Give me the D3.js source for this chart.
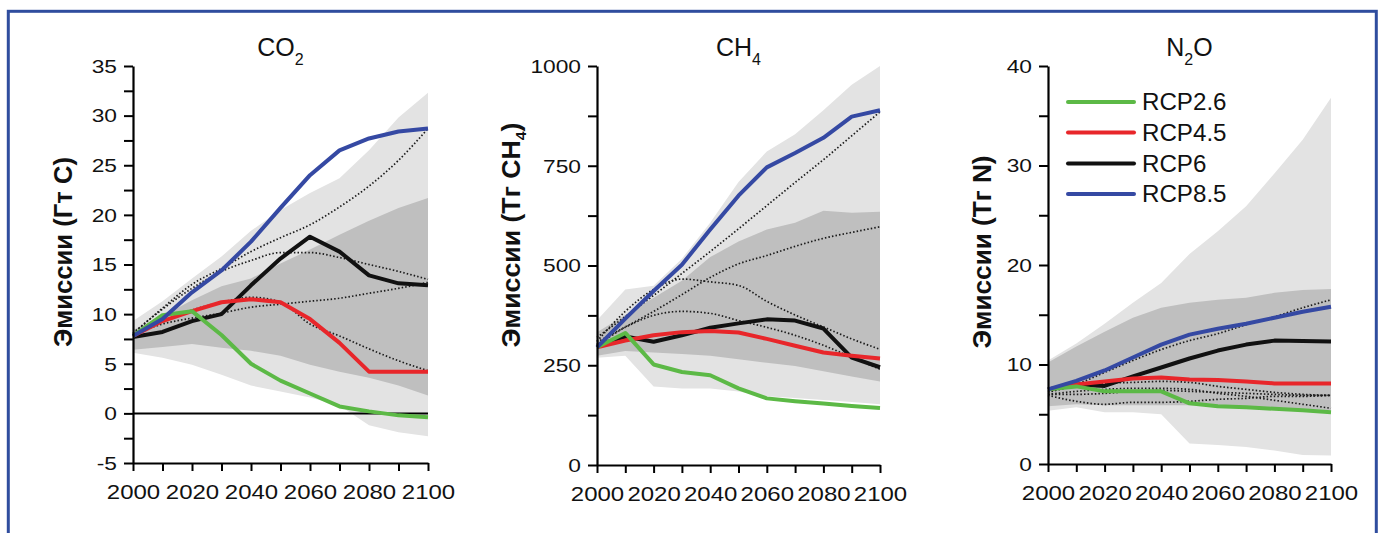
<!DOCTYPE html>
<html><head><meta charset="utf-8">
<script src="https://cdn.jsdelivr.net/npm/d3@7"></script>
<style>
html,body{margin:0;padding:0;background:#fff;overflow:hidden;}
svg text{font-family:"Liberation Sans",Arial,Helvetica,sans-serif;fill:#111;}
</style></head><body>
<svg id="chart" width="1384" height="533"></svg>
<script>
// ---------------- DATA ----------------
const years = [2000,2010,2020,2030,2040,2050,2060,2070,2080,2090,2100];
const xTickYears = [2000,2010,2020,2030,2040,2050,2060,2070,2080,2090,2100];
const xTickLabels = [2000,2020,2040,2060,2080,2100];
const scenarios = ["RCP2.6","RCP4.5","RCP6","RCP8.5"];
const scenarioColors = ["#5cb946","#e8262a","#111111","#3549a3"];

// CO2 (Гт C)
const co2Rcp26 = [7.8, 9.9, 10.3, 7.9, 5.0, 3.3, 2.0, 0.7, 0.2, -0.2, -0.4];
const co2Rcp45 = [7.8, 9.3, 10.3, 11.2, 11.5, 11.2, 9.5, 7.1, 4.2, 4.2, 4.2];
const co2Rcp6  = [7.7, 8.2, 9.3, 10.0, 12.9, 15.6, 17.8, 16.3, 13.9, 13.1, 12.9];
const co2Rcp85 = [7.8, 9.5, 12.2, 14.4, 17.3, 20.7, 24.0, 26.5, 27.7, 28.4, 28.7];
const co2LightHi = [9.3, 11.3, 13.6, 15.8, 18.4, 20.5, 22.2, 23.7, 26.5, 29.8, 32.3];
const co2LightLo = [6.1, 5.6, 4.9, 3.9, 2.8, 2.2, 1.6, 0.8, -1.2, -1.9, -2.3];
const co2DarkHi  = [8.4, 9.8, 11.4, 12.8, 13.6, 15.1, 16.5, 18.0, 19.4, 20.7, 21.7];
const co2DarkLo  = [6.4, 6.7, 7.0, 6.6, 6.3, 5.8, 4.9, 4.2, 3.6, 2.8, 1.8];
const co2Dot1 = [8.0, 10.6, 13.0, 14.6, 16.3, 17.7, 19.0, 20.8, 22.9, 25.5, 28.7];
const co2Dot2 = [8.1, 10.5, 12.6, 14.3, 15.4, 16.2, 16.2, 15.7, 15.0, 14.3, 13.5];
const co2Dot3 = [7.9, 9.0, 9.6, 10.1, 10.7, 11.0, 11.3, 11.6, 12.1, 12.6, 13.2];
const co2Dot4 = [7.9, 9.3, 10.4, 11.2, 11.7, 11.2, 9.0, 7.8, 6.5, 5.3, 4.3];
const co2YTicks = [-5,-2.5,0,2.5,5,7.5,10,12.5,15,17.5,20,22.5,25,27.5,30,32.5,35];
const co2YLabels = [-5,0,5,10,15,20,25,30,35];

// CH4 (Тг CH4)
const ch4Rcp26 = [295, 331, 252, 233, 225, 192, 167, 160, 154, 148, 143];
const ch4Rcp45 = [295, 312, 325, 333, 336, 332, 316, 299, 282, 274, 267];
const ch4Rcp6  = [300, 322, 309, 325, 344, 355, 365, 362, 342, 269, 245];
const ch4Rcp85 = [295, 367, 436, 502, 590, 675, 746, 782, 820, 873, 889];
const ch4LightHi = [363, 440, 449, 517, 607, 709, 786, 829, 889, 953, 1000];
const ch4LightLo = [269, 274, 197, 192, 192, 184, 172, 168, 163, 158, 152];
const ch4DarkHi  = [333, 376, 419, 462, 521, 560, 590, 607, 637, 632, 635];
const ch4DarkLo  = [274, 286, 282, 278, 274, 265, 256, 248, 235, 222, 209];
const ch4Dot1 = [320, 372, 425, 480, 535, 592, 650, 708, 765, 825, 885];
const ch4Dot2 = [308, 346, 385, 427, 470, 504, 525, 548, 568, 583, 597];
const ch4Dot3 = [310, 385, 440, 466, 459, 450, 410, 376, 346, 316, 290];
const ch4Dot4 = [300, 345, 375, 385, 380, 362, 345, 325, 300, 270, 240];
const ch4YTicks = [0,125,250,375,500,625,750,875,1000];
const ch4YLabels = [0,250,500,750,1000];

// N2O (Тг N)
const n2oRcp26 = [7.5, 7.8, 7.3, 7.3, 7.3, 6.1, 5.8, 5.7, 5.55, 5.4, 5.2];
const n2oRcp45 = [7.5, 8.0, 8.3, 8.6, 8.7, 8.5, 8.45, 8.3, 8.1, 8.1, 8.1];
const n2oRcp6  = [7.5, 8.0, 7.85, 8.8, 9.7, 10.6, 11.4, 12.0, 12.4, 12.35, 12.3];
const n2oRcp85 = [7.5, 8.35, 9.4, 10.7, 12.0, 13.0, 13.6, 14.1, 14.7, 15.3, 15.8];
const n2oLightHi = [10.4, 12.1, 14.1, 16.2, 18.2, 21.1, 23.4, 25.9, 29.2, 32.6, 36.8];
const n2oLightLo = [5.35, 5.7, 5.2, 5.2, 5.0, 2.05, 1.9, 1.7, 1.35, 0.9, 0.85];
const n2oDarkHi  = [10.2, 11.8, 13.3, 14.7, 15.7, 16.2, 16.5, 16.7, 17.2, 17.5, 17.6];
const n2oDarkLo  = [5.8, 6.0, 5.9, 5.9, 5.9, 5.9, 5.8, 5.7, 5.6, 5.5, 5.4];
const n2oDot1 = [7.2, 8.0, 9.2, 10.4, 11.5, 12.4, 13.1, 14.0, 14.8, 15.7, 16.5];
const n2oDot2 = [7.3, 7.8, 8.1, 8.2, 8.3, 8.2, 7.8, 7.5, 7.2, 7.0, 6.9];
const n2oDot3 = [7.0, 7.0, 7.1, 7.3, 7.4, 7.3, 7.2, 7.1, 7.0, 6.9, 6.9];
const n2oDot4 = [6.9, 6.3, 6.0, 6.2, 6.2, 6.3, 6.5, 6.6, 6.8, 6.8, 6.9];
const n2oDot5 = [7.0, 7.3, 7.5, 7.6, 7.6, 7.5, 7.1, 6.8, 6.4, 6.0, 5.6];
const n2oYTicks = [0,5,10,15,20,25,30,35,40];
const n2oYLabels = [0,10,20,30,40];

// ---------------- LAYOUT ----------------
const svg = d3.select("#chart");
svg.append("rect").attr("x",8.3).attr("y",11.3).attr("width",1368).attr("height",700)
  .attr("fill","none").attr("stroke","#2f4d9e").attr("stroke-width",3);

const panels = [
  {x0:133, x1:428, yTop:66, yBot:463, domain:[-5,35], yTicks:co2YTicks, yLabels:co2YLabels,
   title:[["CO",0],["2",1]], ylab:[["Эмиссии (Гт С)",0]], ylabX:72, ylabY:252, ylabLen:190,
   light:[co2LightLo,co2LightHi], dark:[co2DarkLo,co2DarkHi], dots:[co2Dot1,co2Dot2,co2Dot3,co2Dot4],
   series:[co2Rcp26,co2Rcp45,co2Rcp6,co2Rcp85], zero:true},
  {x0:597, x1:880, yTop:66, yBot:465, domain:[0,1000], yTicks:ch4YTicks, yLabels:ch4YLabels,
   title:[["CH",0],["4",1]], ylab:[["Эмиссии (Тг CH",0],["4",1],[")",0]], ylabX:520, ylabY:235, ylabLen:225,
   light:[ch4LightLo,ch4LightHi], dark:[ch4DarkLo,ch4DarkHi], dots:[ch4Dot1,ch4Dot2,ch4Dot3,ch4Dot4],
   series:[ch4Rcp26,ch4Rcp45,ch4Rcp6,ch4Rcp85], zero:false},
  {x0:1048, x1:1331, yTop:66, yBot:464, domain:[0,40], yTicks:n2oYTicks, yLabels:n2oYLabels,
   title:[["N",0],["2",1],["O",0]], ylab:[["Эмиссии (Тг N)",0]], ylabX:991, ylabY:252, ylabLen:193,
   light:[n2oLightLo,n2oLightHi], dark:[n2oDarkLo,n2oDarkHi], dots:[n2oDot1,n2oDot2,n2oDot3,n2oDot4,n2oDot5],
   series:[n2oRcp26,n2oRcp45,n2oRcp6,n2oRcp85], zero:false, legend:true}
];

const drawOrder = [2,1,0,3];

panels.forEach(p => {
  const x = d3.scaleLinear().domain([2000,2100]).range([p.x0,p.x1]);
  const y = d3.scaleLinear().domain(p.domain).range([p.yBot,p.yTop]);
  const g = svg.append("g");

  const area = (lo,hi) => d3.area().x((d,i)=>x(years[i])).y0((d,i)=>y(lo[i])).y1((d,i)=>y(hi[i]))(years);
  g.append("path").attr("d", area(p.light[0],p.light[1])).attr("fill","#e3e3e3");
  g.append("path").attr("d", area(p.dark[0],p.dark[1])).attr("fill","#bfbfbf");

  if (p.zero) {
    g.append("line").attr("x1",x(2000)).attr("x2",x(2100)).attr("y1",y(0)).attr("y2",y(0))
      .attr("stroke","#000").attr("stroke-width",2);
  }

  const line = d3.line().x((d,i)=>x(years[i])).y(d=>y(d));
  p.dots.forEach(s => {
    g.append("path").attr("d", line.curve(d3.curveMonotoneX)(s)).attr("fill","none")
      .attr("stroke","#1a1a1a").attr("stroke-width",1.7).attr("stroke-dasharray","1.5 2.1");
  });
  drawOrder.forEach(k => {
    g.append("path").attr("d", line.curve(d3.curveLinear)(p.series[k])).attr("fill","none")
      .attr("stroke",scenarioColors[k]).attr("stroke-width",4).attr("stroke-linejoin","round");
  });

  // Y axis
  const yAxis = d3.axisLeft(y).tickValues(p.yTicks).tickSize(9).tickSizeOuter(0)
    .tickFormat(v => p.yLabels.includes(v) ? String(v) : "");
  const ya = g.append("g").attr("transform",`translate(${p.x0},0)`).call(yAxis);
  ya.select(".domain").attr("stroke","#000").attr("stroke-width",2.2);
  ya.selectAll(".tick line").attr("stroke","#000").attr("stroke-width",2);
  const ySx = 1.3;
  ya.selectAll(".tick text").attr("font-size",17.5).attr("fill","#111")
    .attr("x", -16/ySx).attr("dy","0.36em").attr("transform",`scale(${ySx},1)`);

  // X axis
  const xAxis = d3.axisBottom(x).tickValues(xTickYears).tickSize(8).tickSizeOuter(0)
    .tickFormat(v => xTickLabels.includes(v) ? String(v) : "");
  const xa = g.append("g").attr("transform",`translate(0,${p.yBot})`).call(xAxis);
  xa.select(".domain").attr("stroke","#000").attr("stroke-width",2.2);
  xa.selectAll(".tick line").attr("stroke","#000").attr("stroke-width",2);
  const xSx = 1.2;
  xa.selectAll(".tick text").attr("font-size",20).attr("fill","#111")
    .attr("y",36).attr("dy",0).attr("transform",`scale(${xSx},1)`);

  // Title
  const t = g.append("text").attr("x",(p.x0+p.x1)/2).attr("y",56).attr("text-anchor","middle")
    .attr("font-size",25);
  let sub = false;
  p.title.forEach(([s,isSub]) => {
    const ts = t.append("tspan").text(s);
    if (isSub && !sub) { ts.attr("font-size",16).attr("dy",9); sub = true; }
    else if (!isSub && sub) { ts.attr("dy",-9); sub = false; }
  });

  // Y label
  const yl = g.append("text").attr("text-anchor","middle").attr("font-size",25).attr("font-weight","bold");
  let s2 = false;
  p.ylab.forEach(([s,isSub]) => {
    const ts = yl.append("tspan").text(s);
    if (isSub && !s2) { ts.attr("font-size",15).attr("dy",6); s2 = true; }
    else if (!isSub && s2) { ts.attr("dy",-6); s2 = false; }
  });
  const w = yl.node().getBBox().width || p.ylabLen;
  const sc = p.ylabLen / w;
  yl.attr("transform",`translate(${p.ylabX},${p.ylabY}) rotate(-90) scale(${sc},1)`);

  // Legend
  if (p.legend) {
    const rows = [102,132.5,163.5,194];
    scenarios.forEach((name,k) => {
      g.append("line").attr("x1",1068).attr("x2",1134).attr("y1",rows[k]).attr("y2",rows[k])
        .attr("stroke",scenarioColors[k]).attr("stroke-width",4).attr("stroke-linecap","round");
      g.append("text").attr("x",1142/1.05).attr("y",rows[k]+8.3).attr("font-size",23)
        .attr("transform","scale(1.05,1)").text(name);
    });
  }
});
</script>
</body></html>
